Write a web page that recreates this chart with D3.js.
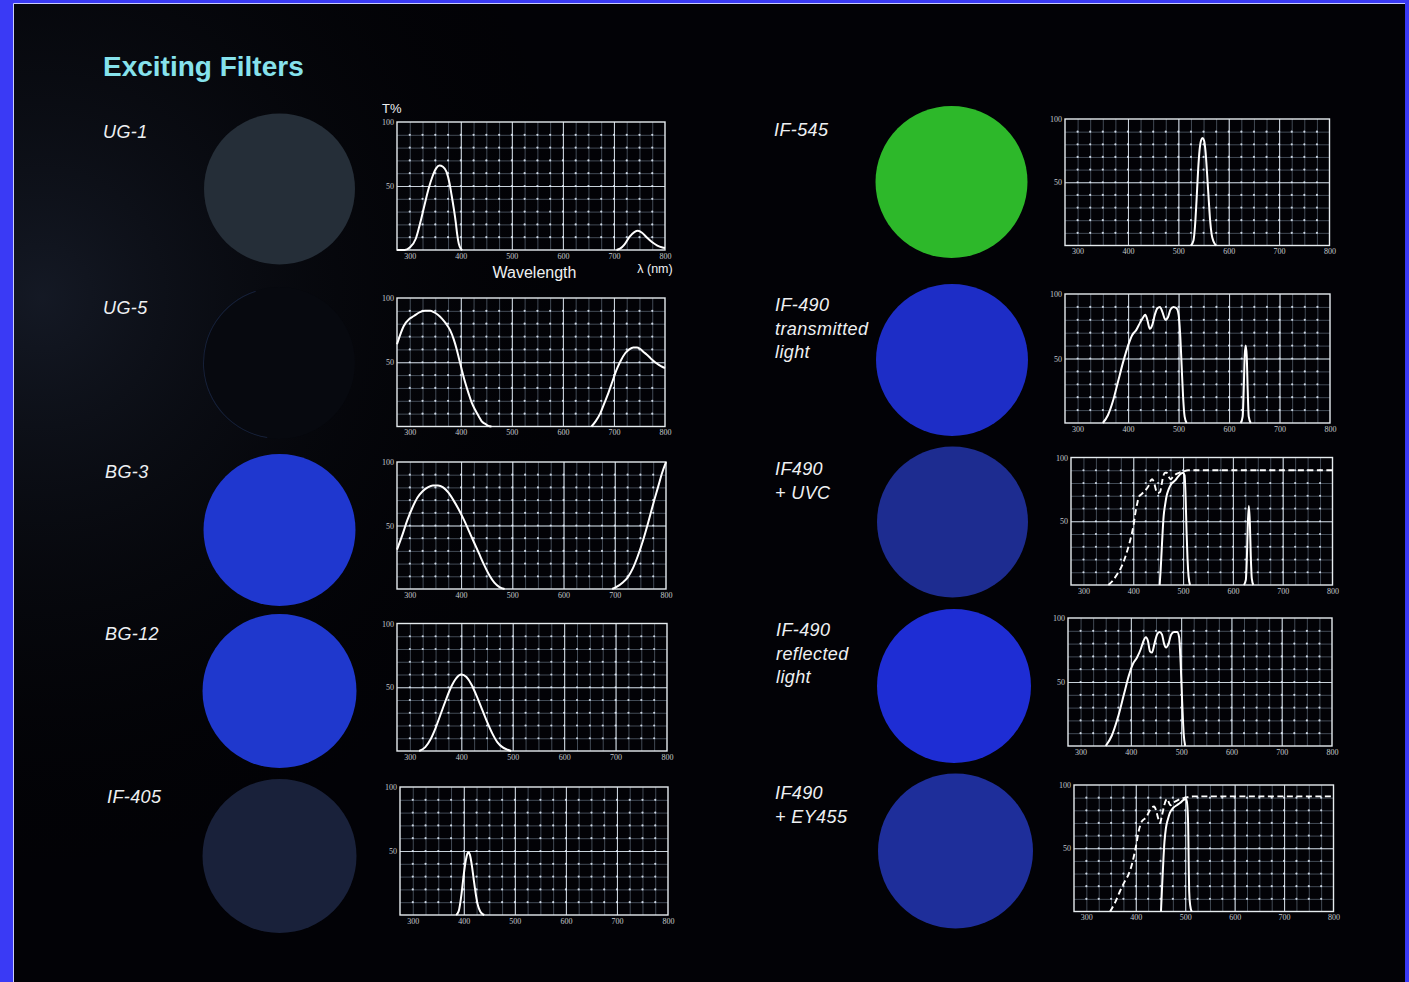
<!DOCTYPE html>
<html>
<head>
<meta charset="utf-8">
<script src="https://cdn.jsdelivr.net/npm/d3@7"></script>
<style>
  html, body { margin: 0; padding: 0; background: #3a3af5; overflow: hidden; }
  svg { display: block; }
</style>
</head>
<body>
<svg id="chart" width="1409" height="982"></svg>
<script>
// ---- Filter names and disc colours ----
const filterLabels = [
  ["UG-1"], ["UG-5"], ["BG-3"], ["BG-12"], ["IF-405"],
  ["IF-545"], ["IF-490", "transmitted", "light"], ["IF490", "+ UVC"],
  ["IF-490", "reflected", "light"], ["IF490", "+ EY455"]
];
const discColors = [
  "#252e38", "#07090f", "#1f37cf", "#1f38cd", "#19213a",
  "#2db82a", "#1d2dc6", "#1d2c90", "#1e2dd4", "#1e2e9a"
];

// ---- Axis ticks ----
const wavelengthTicks = [300, 400, 500, 600, 700, 800];
const percentTicks = [50, 100];
const wavelengthDomain = [275, 800];
const percentDomain = [0, 100];

// ---- Transmission curves: [wavelength nm, T %]; each filter = list of solid bands ----
const ug1Bands = [
  [[275,0],[290,0],[300,2],[312,9],[321,22],[330,37],[337,48],[345,58],[352,64],[358,66],[365,65],[372,61],[378,52],[381,45],[386,33],[390,22],[393,12],[396,5],[400,1],[403,0]],
  [[705,0],[712,1],[720,4],[730,10],[740,14],[747,15],[755,13.5],[765,9.5],[775,6],[785,3.5],[795,2],[800,1.5]]
];
const ug5Bands = [
  [[275,64],[288,78],[300,84],[308,86],[320,89],[330,90],[340,90],[347,89],[355,87],[363,84],[371,80],[379,75],[386,68],[392,60],[397,52],[402,44],[408,35],[415,26],[421,19],[428,13],[435,8],[441,4],[448,2],[454,0.5],[460,0]],
  [[656,0],[664,4],[673,10],[681,18],[689,26],[697,35],[705,44],[713,51],[722,57],[730,60],[738,61.5],[745,61.5],[751,60.5],[758,58],[764,56],[772,53],[784,49],[792,47],[800,45.5]]
];
const bg3Bands = [
  [[275,31],[285,42],[295,54],[305,64],[315,72],[325,77],[335,80],[345,81.5],[355,81.5],[365,80],[375,76],[385,70],[395,63],[405,55],[415,46],[425,37],[435,28],[445,19],[455,11],[465,5],[475,1.5],[485,0]],
  [[695,0],[705,2],[715,5],[725,9],[735,16],[745,26],[755,38],[765,52],[775,67],[785,81],[792,91],[800,100]]
];
const bg12Bands = [
  [[318,0],[330,3],[340,9],[350,18],[360,29],[370,40],[380,50],[390,57],[400,60],[410,58],[420,52],[430,43],[440,33],[450,23],[460,14],[470,7],[480,3],[490,1],[497,0]]
];
const if405Bands = [
  [[385,0],[390,3],[396,18],[400,32],[404,43],[407,48],[409,49],[412,47],[416,38],[420,26],[424,15],[428,7],[432,3],[436,1],[440,0]]
];
const if545Bands = [
  [[525,0],[530,4],[533,15],[536,35],[539,58],[542,75],[545,83],[548,85],[551,83],[554,74],[557,57],[560,38],[563,20],[566,9],[570,3],[575,0]]
];
const if490TBands = [
  [[350,0],[360,6],[370,17],[380,32],[390,47],[400,60],[408,68],[416,72],[424,78],[430,82],[434,84],[438,80],[443,73],[448,76],[453,84],[458,89],[463,90],[468,86],[474,80],[479,82],[484,88],[490,90],[496,89],[500,84],[503,70],[506,45],[509,20],[512,5],[516,0]],
  [[623,0],[627,5],[629,25],[631,52],[633,60],[635,52],[637,25],[639,5],[643,0]]
];
const uvcBands = [
  [[453,0],[455,12],[457,27],[459,42],[461,54],[464,63],[467,70],[471,75],[476,79],[484,82],[490,85],[495,87],[500,88],[503,86],[505,70],[507,42],[509,20],[511,7],[514,0]],
  [[622,0],[626,4],[628,20],[630,48],[632,62],[634,50],[636,22],[638,5],[641,0]]
];
const uvcDashed = [
  [[350,0],[358,3],[367,8],[376,14],[384,22],[391,31],[397,40],[401,48],[404,56],[408,64],[411,69],[416,71],[421,73],[426,75],[431,78],[435,82],[438,83],[442,80],[446,74],[449,72],[454,73],[457,79],[460,85],[464,88],[467,88],[471,85],[475,83],[480,85],[486,87],[492,88],[500,89],[510,90],[800,90]]
];
const if490RBands = [
  [[350,0],[362,8],[374,22],[386,40],[396,55],[404,64],[412,69],[420,76],[425,82],[430,85],[434,82],[438,74],[442,73],[447,80],[452,87],[457,89],[462,87],[466,80],[470,77],[475,80],[480,87],[486,89],[492,89],[496,85],[499,65],[502,35],[505,10],[508,0]]
];
const ey455Bands = [
  [[451,0],[453,18],[456,42],[458,55],[461,66],[465,73],[469,78],[476,82],[483,84],[490,86],[496,88],[502,89],[504,85],[506,68],[507,40],[508,16],[510,5],[513,0]]
];
const ey455Dashed = [
  [[348,0],[358,7],[368,16],[378,24],[385,29],[392,37],[398,47],[402,55],[405,62],[409,68],[412,71],[417,73],[422,75],[427,79],[432,82],[437,83],[441,80],[445,74],[449,70],[453,76],[457,83],[461,88],[464,89],[467,86],[470,84],[475,86],[480,87],[490,89],[500,90],[517,91],[800,91]]
];

const solidCurves = [ug1Bands, ug5Bands, bg3Bands, bg12Bands, if405Bands,
                     if545Bands, if490TBands, uvcBands, if490RBands, ey455Bands];
const dashedCurves = [[], [], [], [], [], [], [], uvcDashed, [], ey455Dashed];

// ---- Page layout (pixel geometry of each row) ----
const layout = [
  {lx:103, ly:138, cx:279.5, cy:189, r:75.5, f:[397,665,122,250]},
  {lx:103, ly:314, cx:279,   cy:363, r:76,   f:[397,665,298,426.5]},
  {lx:105, ly:478, cx:279.5, cy:530, r:76,   f:[397,666,462,589]},
  {lx:105, ly:640, cx:279.5, cy:691, r:77,   f:[397,667,623.5,751]},
  {lx:107, ly:803, cx:279.5, cy:856, r:77,   f:[400,668,787,915]},
  {lx:774, ly:136, cx:951.5, cy:182, r:76,   f:[1065,1329.5,119,245.5]},
  {lx:775, ly:311, cx:952,   cy:360, r:76,   f:[1065,1330,294,423]},
  {lx:775, ly:475, cx:952.5, cy:522, r:75.5, f:[1071,1332.5,457.5,585]},
  {lx:776, ly:636, cx:954,   cy:686, r:77,   f:[1068,1332,618,746]},
  {lx:775, ly:799, cx:955.5, cy:851, r:77.5, f:[1074,1333.5,785,911.5]}
];

const svg = d3.select("#chart");
const W = 1409, H = 982;

// ---- Background and frame border ----
const defs = svg.append("defs");
const haze = defs.append("radialGradient").attr("id", "haze")
  .attr("cx", 0.02).attr("cy", 0.32).attr("r", 0.42)
  .attr("gradientTransform", "scale(1,1.5) translate(0,-0.12)");
haze.append("stop").attr("offset", "0%").attr("stop-color", "#151a26").attr("stop-opacity", 0.95);
haze.append("stop").attr("offset", "100%").attr("stop-color", "#000000").attr("stop-opacity", 0);

svg.append("rect").attr("x", 0).attr("y", 0).attr("width", W).attr("height", H).attr("fill", "#3a3af5");
svg.append("rect").attr("x", 14).attr("y", 4).attr("width", W - 18).attr("height", H - 4).attr("fill", "#020206");
svg.append("rect").attr("x", 14).attr("y", 4).attr("width", W - 18).attr("height", H - 4).attr("fill", "url(#haze)");
svg.append("line").attr("x1", 13.5).attr("x2", 13.5).attr("y1", 3.5).attr("y2", H)
  .attr("stroke", "#c9ccff").attr("stroke-width", 1);
svg.append("line").attr("x1", 13.5).attr("x2", W - 4).attr("y1", 3.5).attr("y2", 3.5)
  .attr("stroke", "#c9ccff").attr("stroke-width", 1);

// ---- Title ----
svg.append("text").attr("x", 103).attr("y", 76)
  .attr("font-family", "Liberation Sans, Arial, sans-serif")
  .attr("font-weight", "bold").attr("font-size", 28)
  .attr("fill", "#86e2ec").text("Exciting Filters");

const minorX = d3.range(300, 800, 25);
const minorY = d3.range(10, 100, 10);
const majorX = [400, 500, 600, 700];

filterLabels.forEach((lines, i) => {
  const L = layout[i];
  const [x0, x1, y0, y1] = L.f;
  const x = d3.scaleLinear().domain(wavelengthDomain).range([x0, x1]);
  const y = d3.scaleLinear().domain(percentDomain).range([y1, y0]);
  const g = svg.append("g");

  // filter name
  const t = svg.append("text")
    .attr("font-family", "Liberation Sans, Arial, sans-serif")
    .attr("font-style", "italic").attr("font-size", 18)
    .attr("letter-spacing", 0.4)
    .attr("fill", "#eef0f2");
  lines.forEach((s, k) => {
    t.append("tspan").attr("x", L.lx).attr("y", L.ly + k * 23.5).text(s);
  });

  // filter disc
  svg.append("circle").attr("cx", L.cx).attr("cy", L.cy).attr("r", L.r)
    .attr("fill", discColors[i]);
  // faint rim on the dark UG-5 disc
  if (i === 1) {
    const arc = d3.arc().innerRadius(L.r - 1).outerRadius(L.r)
      .startAngle(-Math.PI * 0.95).endAngle(-Math.PI * 0.1);
    svg.append("path").attr("transform", `translate(${L.cx},${L.cy})`)
      .attr("d", arc()).attr("fill", "#3a5a9a").attr("fill-opacity", 0.3);
  }

  // minor grid
  g.append("g").attr("transform", `translate(0,${y1})`)
    .call(d3.axisBottom(x).tickValues(minorX).tickSize(-(y1 - y0)).tickFormat(""))
    .call(a => a.select(".domain").remove())
    .call(a => a.selectAll("line").attr("stroke", "#9fb6cc").attr("stroke-opacity", 0.5).attr("stroke-width", 0.8));
  g.append("g").attr("transform", `translate(${x0},0)`)
    .call(d3.axisLeft(y).tickValues(minorY).tickSize(-(x1 - x0)).tickFormat(""))
    .call(a => a.select(".domain").remove())
    .call(a => a.selectAll("line").attr("stroke", "#9fb6cc").attr("stroke-opacity", 0.5).attr("stroke-width", 0.8));

  // major grid
  g.append("g").attr("transform", `translate(0,${y1})`)
    .call(d3.axisBottom(x).tickValues(majorX).tickSize(-(y1 - y0)).tickFormat(""))
    .call(a => a.select(".domain").remove())
    .call(a => a.selectAll("line").attr("stroke", "#dfe8f0").attr("stroke-opacity", 0.85).attr("stroke-width", 1.1));
  g.append("g").attr("transform", `translate(${x0},0)`)
    .call(d3.axisLeft(y).tickValues([50]).tickSize(-(x1 - x0)).tickFormat(""))
    .call(a => a.select(".domain").remove())
    .call(a => a.selectAll("line").attr("stroke", "#dfe8f0").attr("stroke-opacity", 0.85).attr("stroke-width", 1.1));

  // intersection dots
  const pts = [];
  minorX.forEach(wx => minorY.forEach(py => pts.push([wx, py])));
  g.append("g").selectAll("circle").data(pts).join("circle")
    .attr("cx", d => x(d[0])).attr("cy", d => y(d[1])).attr("r", 1.1)
    .attr("fill", "#e8f2ff").attr("fill-opacity", 0.85);

  // plot frame
  g.append("rect").attr("x", x0).attr("y", y0).attr("width", x1 - x0).attr("height", y1 - y0)
    .attr("fill", "none").attr("stroke", "#e6ecef").attr("stroke-width", 1.4);

  // tick labels
  g.append("g").attr("transform", `translate(0,${y1})`)
    .call(d3.axisBottom(x).tickValues(wavelengthTicks).tickSize(0).tickPadding(3))
    .call(a => a.select(".domain").remove())
    .call(a => a.selectAll("text").attr("fill", "#c4c9cc").attr("font-size", 8)
      .attr("font-family", "Liberation Serif, serif"));
  g.append("g").attr("transform", `translate(${x0},0)`)
    .call(d3.axisLeft(y).tickValues(percentTicks).tickSize(0).tickPadding(3))
    .call(a => a.select(".domain").remove())
    .call(a => a.selectAll("text").attr("fill", "#c4c9cc").attr("font-size", 8)
      .attr("font-family", "Liberation Serif, serif"));

  // transmission curves
  const line = d3.line().x(d => x(d[0])).y(d => y(d[1])).curve(d3.curveMonotoneX);
  g.append("g").selectAll("path").data(dashedCurves[i]).join("path")
    .attr("d", line).attr("fill", "none").attr("stroke", "#ffffff")
    .attr("stroke-width", 1.9).attr("stroke-dasharray", "6,3.5");
  g.append("g").selectAll("path").data(solidCurves[i]).join("path")
    .attr("d", line).attr("fill", "none").attr("stroke", "#ffffff")
    .attr("stroke-width", 2).attr("stroke-linejoin", "round");

  // axis titles on the first plot
  if (i === 0) {
    svg.append("text").attr("x", 382).attr("y", 113)
      .attr("font-family", "Liberation Sans, Arial, sans-serif").attr("font-size", 13)
      .attr("fill", "#eef0f2").text("T%");
    svg.append("text").attr("x", 534.5).attr("y", 277.5).attr("text-anchor", "middle")
      .attr("font-family", "Liberation Sans, Arial, sans-serif").attr("font-size", 16)
      .attr("fill", "#eef0f2").text("Wavelength");
    svg.append("text").attr("x", 655).attr("y", 273).attr("text-anchor", "middle")
      .attr("font-family", "Liberation Sans, Arial, sans-serif").attr("font-size", 12.5)
      .attr("fill", "#eef0f2").text("λ (nm)");
  }
});
</script>
</body>
</html>
